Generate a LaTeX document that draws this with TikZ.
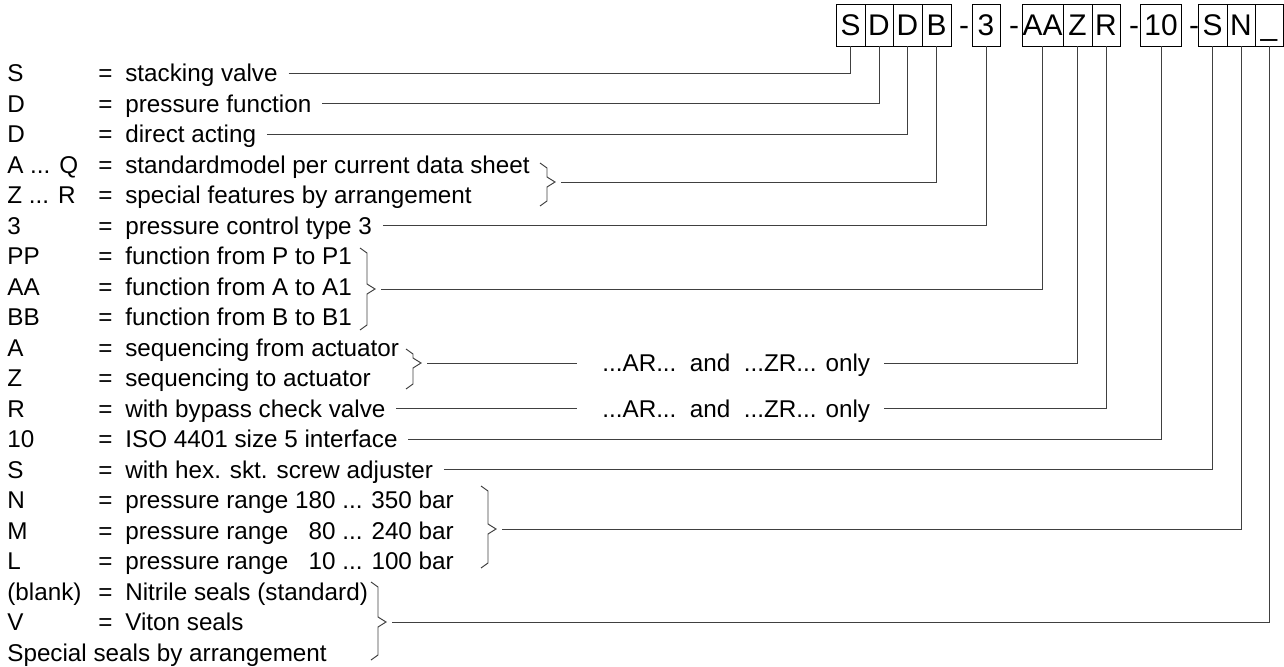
\documentclass[tikz,border=0pt]{standalone}
\usepackage{fontspec}
\setmainfont{Liberation Sans}
\usepackage{tikz}

\tikzset{
  ln/.style={line width=0.55pt, black!75},
  txt/.style={anchor=west, inner sep=0pt, font=\fontsize{13.8}{16}\selectfont, text height=9.9pt, text depth=0pt},
  cell/.style={draw, line width=0.55pt, inner sep=0pt, minimum height=0.84cm, font=\fontsize{17}{20}\selectfont, text height=12.2pt, text depth=0pt}
}
\newcommand{\ddd}{...}
% bracket: name, x of spine, top, tip, bottom
\newcommand{\grp}[5]{%
  \draw[ln] (#2-7,#3) -- (#2,#3+5) -- (#2,#4-5) -- (#2+8,#4) -- (#2,#4+5) -- (#2,#5-5) -- (#2-7,#5);
  \coordinate (#1) at (#2+14,#4);}

\begin{document}
\begin{tikzpicture}[x=0.02cm, y=-0.02cm]
\useasboundingbox (0,0) rectangle (1284,666);
\foreach \n/\t/\x/\w in {bS1/S/850.5/29, bD1/D/879/28, bD2/D/907.5/29, bB/B/936.5/29,
  b3/3/986/28, bAA/AA/1042.5/41, bZ/Z/1077.5/29, bR/R/1106/28, b10/10/1161/41,
  bS2/S/1212.5/29, bN/N/1241/28, bU/\_/1269/28}
  \node[cell, minimum width=\w*0.2mm] (\n) at (\x,25) {\t};
\foreach \n/\x in {m1/964, m2/1014, m3/1134, m4/1194}
  \node[cell, draw=none] (\n) at (\x,25) {-};

\foreach \i/\c/\d in {%
  0/S/stacking valve,
  1/D/pressure function,
  2/D/direct acting,
  3/A \ddd{} Q/standardmodel per current data sheet,
  4/Z \ddd{} R/special features by arrangement,
  5/3/pressure control type 3,
  6/PP/function from P to P1,
  7/AA/function from A to A1,
  8/BB/function from B to B1,
  9/A/sequencing from actuator,
  10/Z/sequencing to actuator,
  11/R/with bypass check valve,
  12/10/ISO 4401 size 5 interface,
  13/S/with hex. skt. screw adjuster,
  14/N/pressure range 180 \ddd{} 350 bar,
  15/M/pressure range \phantom{1}80 \ddd{} 240 bar,
  16/L/pressure range \phantom{1}10 \ddd{} 100 bar,
  17/(blank)/Nitrile seals (standard),
  18/V/Viton seals}{
  \node[txt] (c\i) at (7,73+30.5*\i) {\c};
  \node[txt] (e\i) at (98,73+30.5*\i) {=};
  \node[txt] (t\i) at (125,73+30.5*\i) {\d};
}
\node[txt] (t19) at (7,{73+30.5*19}) {Special seals by arrangement};

\foreach \r/\b in {0/bS1, 1/bD1, 2/bD2, 5/b3, 12/b10, 13/bS2}
  \draw[ln] ([xshift=6pt]t\r.east) -| (\b.south);

\grp{g1}{547}{163}{182}{206}
\grp{g2}{367}{248}{289}{330}
\grp{g3}{413}{349}{363}{389}
\grp{g4}{488}{486}{529}{568}
\grp{g5}{378}{582}{622}{660}
\foreach \g/\b in {g1/bB, g2/bAA, g4/bN, g5/bU}
  \draw[ln] (\g) -| (\b.south);

\node[txt] (ar1) at (602,363) {...AR...\ \ and\ \ ...ZR... only};
\node[txt] (ar2) at (602,{73+30.5*11}) {...AR...\ \ and\ \ ...ZR... only};
\draw[ln] (g3) -- ([xshift=-14pt]ar1.west);
\draw[ln] ([xshift=8pt]ar1.east) -| (bZ.south);
\draw[ln] ([xshift=6pt]t11.east) -- ([xshift=-14pt]ar2.west);
\draw[ln] ([xshift=8pt]ar2.east) -| (bR.south);
\end{tikzpicture}
\end{document}
